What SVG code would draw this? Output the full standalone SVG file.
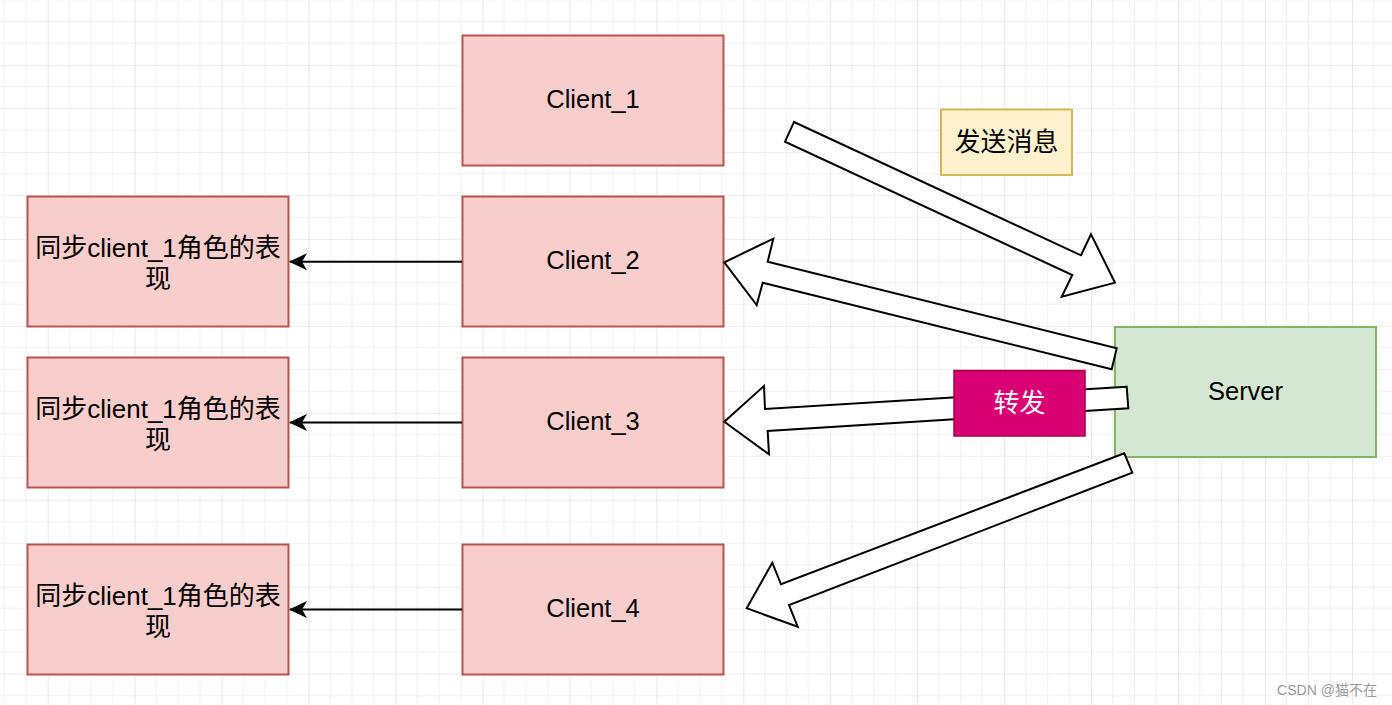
<svg xmlns="http://www.w3.org/2000/svg" width="1392" height="705" viewBox="0 0 1392 705">
<style>
.client{fill:#f8cecc;stroke:#b85450;stroke-width:2}
.server{fill:#d5e8d4;stroke:#82b366;stroke-width:2}
.note{fill:#fff2cc;stroke:#d6b656;stroke-width:2}
.relay{fill:#d80073;stroke:#a50040;stroke-width:1.5}
.flex{fill:#ffffff;stroke:#000000;stroke-width:2;stroke-linejoin:miter}
.edge{fill:none;stroke:#000000;stroke-width:2}
.lbl{font-family:"Liberation Sans","Noto Sans CJK SC",sans-serif;font-size:25.5px;fill:#000000;text-anchor:middle}
.cjk{font-family:"Liberation Sans","Noto Sans CJK SC",sans-serif;font-size:26px;fill:#000000;text-anchor:middle}
.big{font-family:"Noto Sans CJK SC",sans-serif;font-size:26px;text-anchor:middle}
.wm{font-family:"Liberation Sans","Noto Sans CJK SC",sans-serif;font-size:14px;fill:#9a9a9a;text-anchor:middle}
</style>
<defs>
<pattern id="grid" patternUnits="userSpaceOnUse" x="47.7" y="65" width="86.95" height="86.95">
<path d="M21.74,0V86.95M43.48,0V86.95M65.21,0V86.95M0,21.74H86.95M0,43.48H86.95M0,65.21H86.95" fill="none" stroke="#f0f0f0" stroke-width="1"/>
<path d="M0,0V86.95M0,0H86.95" fill="none" stroke="#d9d9d9" stroke-width="1.2"/>
</pattern>
<marker id="arr" viewBox="0 0 18 18" refX="17" refY="9" markerWidth="18" markerHeight="18" markerUnits="userSpaceOnUse" orient="auto">
<path d="M0,0.5 L18,9 L0,17.5 L5,9 Z" fill="#000000"/>
</marker>
</defs>
<rect x="0" y="0" width="1392" height="705" fill="#ffffff"/>
<rect x="0" y="0" width="1392" height="705" fill="url(#grid)"/>

<g id="client1"><rect class="client" x="462.5" y="35.5" width="261" height="130"/><text class="lbl" x="593" y="108">Client_1</text></g>
<g id="client2"><rect class="client" x="462.5" y="196.5" width="261" height="130"/><text class="lbl" x="593" y="269">Client_2</text></g>
<g id="client3"><rect class="client" x="462.5" y="357.5" width="261" height="130"/><text class="lbl" x="593" y="430">Client_3</text></g>
<g id="client4"><rect class="client" x="462.5" y="544.5" width="261" height="130"/><text class="lbl" x="593" y="617">Client_4</text></g>

<g id="sync2"><rect class="client" x="27.5" y="196.5" width="261" height="130"/><text class="cjk" x="158" y="256.5">同步client_1角色的表</text><text class="cjk" x="158" y="287.5">现</text></g>
<g id="sync3"><rect class="client" x="27.5" y="357.5" width="261" height="130"/><text class="cjk" x="158" y="417.5">同步client_1角色的表</text><text class="cjk" x="158" y="448.5">现</text></g>
<g id="sync4"><rect class="client" x="27.5" y="544.5" width="261" height="130"/><text class="cjk" x="158" y="604.5">同步client_1角色的表</text><text class="cjk" x="158" y="635.5">现</text></g>

<g id="server"><rect class="server" x="1115" y="327" width="261" height="130"/><text class="lbl" x="1245.5" y="400">Server</text></g>

<g id="note"><rect class="note" x="941" y="109.5" width="131" height="65.5"/><text class="big" x="1006.5" y="151" fill="#000000">发送消息</text></g>

<g id="connectors">
<line class="edge" x1="462" y1="261.7" x2="290" y2="261.7" marker-end="url(#arr)"/>
<line class="edge" x1="462" y1="422.5" x2="290" y2="422.5" marker-end="url(#arr)"/>
<line class="edge" x1="462" y1="609.5" x2="290" y2="609.5" marker-end="url(#arr)"/>
<polygon class="flex" points="794,122 1081,255.3 1091,234.3 1115,282.7 1061.7,296.7 1072.3,275 785,141.7"/>
<polygon class="flex" points="1116.7,348.3 767.7,261.7 773.3,238.7 724.3,262.3 756.7,305 762.7,282.7 1111.7,369.3"/>
<polygon class="flex" points="1126.7,386.7 765,409 764,386 724.3,421.7 769,454.3 767.7,431 1128.3,408.3"/>
<polygon class="flex" points="1124.3,453.3 781,584.3 772.3,562.7 746.7,608.3 797.7,626.7 789,605 1132.3,472.7"/>
</g>

<g id="relay"><rect class="relay" x="954" y="370.5" width="131" height="65.5"/><text class="big" x="1019.5" y="412" fill="#ffffff">转发</text></g>

<text class="wm" x="1327" y="695">CSDN @猫不在</text>
</svg>
